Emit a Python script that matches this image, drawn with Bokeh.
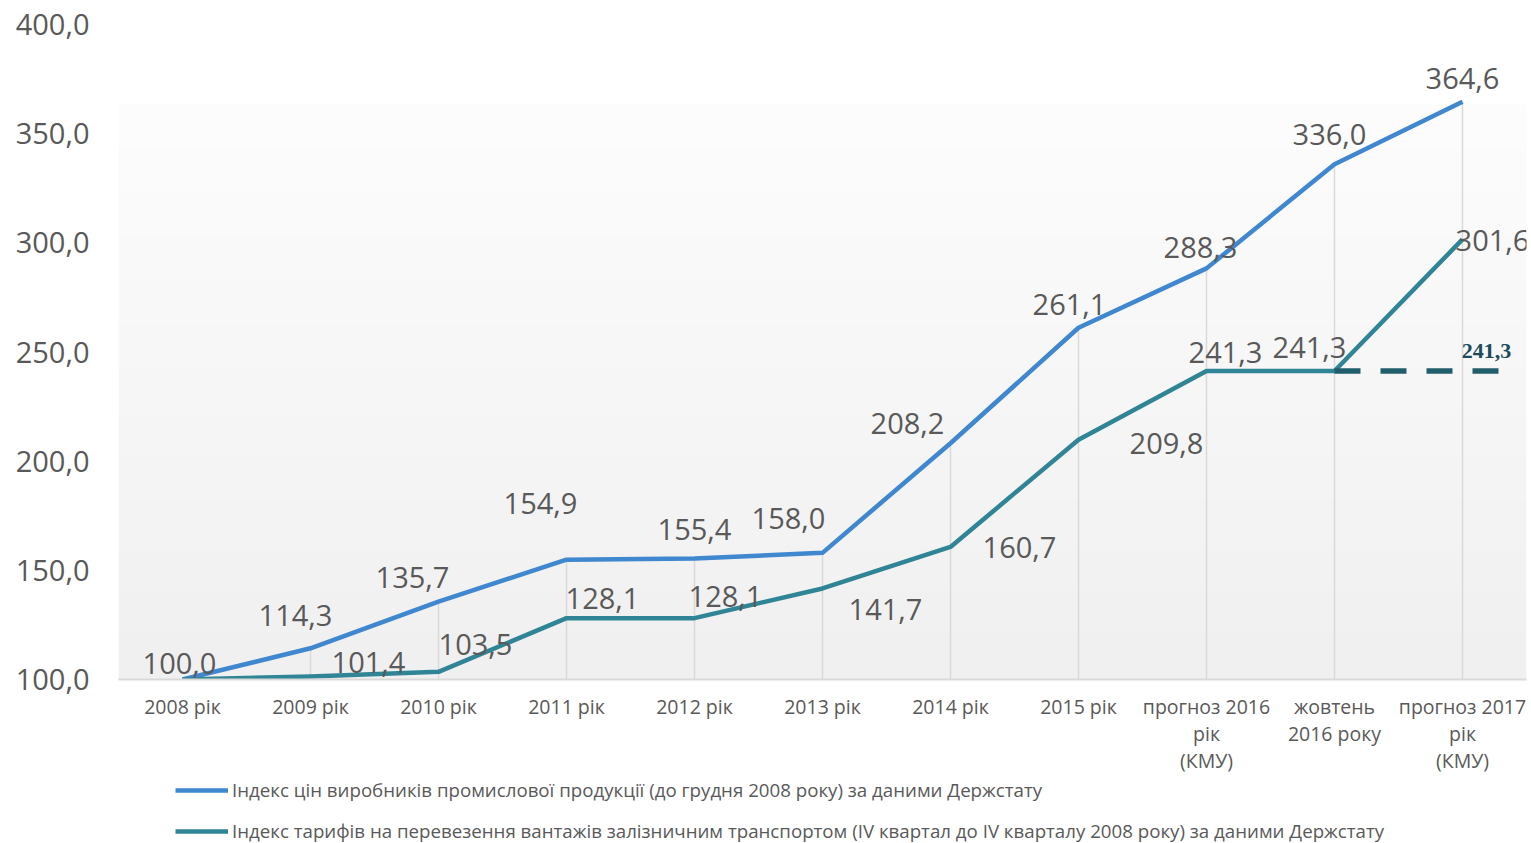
from bokeh.plotting import figure
from bokeh.layouts import column
from bokeh.models import ColumnDataSource, FixedTicker, Legend, LegendItem, Range1d
from bokeh.core.properties import value
from bokeh.embed import file_html
from bokeh.resources import INLINE
import numpy as np

# ---- data ----
categories = ["2008 рік", "2009 рік", "2010 рік", "2011 рік", "2012 рік", "2013 рік",
              "2014 рік", "2015 рік", "прогноз 2016\nрік\n(КМУ)", "жовтень\n2016 року",
              "прогноз 2017\nрік\n(КМУ)"]
producer_index = [100.0, 114.3, 135.7, 154.9, 155.4, 158.0, 208.2, 261.1, 288.3, 336.0, 364.6]
rail_tariff_index = [100.0, 101.4, 103.5, 128.1, 128.1, 141.7, 160.7, 209.8, 241.3, 241.3, 301.6]
tariff_hold_value = 241.3
y_ticks = [100, 150, 200, 250, 300, 350, 400]
y_tick_labels = ["100,0", "150,0", "200,0", "250,0", "300,0", "350,0", "400,0"]
series_names = [
    "Індекс цін виробників промислової продукції (до грудня 2008 року) за даними Держстату",
    "Індекс тарифів на перевезення вантажів залізничним транспортом (IV квартал до IV кварталу 2008 року) за даними Держстату",
]

# ---- label placement (screen px offsets) ----
blue_dx = [-3, -15, -26, -26, 0, -34, -43, -9, -6, -5, 0]
blue_dy = [-16, -33, -24, -56, -29, -34, -20, -23, -21, -30, -23]
teal_dx = [0, 58, 37, 36, 31, 63, 69, 88, 19, -25, 30]
teal_dy = [0, -14, -27, -20, -22, 21, 1, 4, -18, -23, 1]

def fmt(v):
    return f"{v:.1f}".replace(".", ",")

BLUE = "#3F87CF"
TEAL = "#2F8595"
DARK_TEAL = "#215E6C"
GRAY_TEXT = "#595959"
FONT = "Open Sans"

n = len(categories)
xs = list(range(n))

p = figure(width=1531, height=776, output_backend="svg", toolbar_location=None,
           x_range=Range1d(-0.5, 10.5), y_range=Range1d(100, 400),
           min_border_left=118, min_border_right=5, min_border_top=24, min_border_bottom=95)
p.outline_line_color = None
p.background_fill_color = "white"
p.border_fill_color = "white"
p.xgrid.grid_line_color = None
p.ygrid.grid_line_color = None

# gradient plot-area background
h = 200
grad = np.linspace(0, 1, h)
top = np.array([253, 253, 253])
bot = np.array([240, 240, 240])
img = np.zeros((h, 2), dtype=np.uint32)
view = img.view(dtype=np.uint8).reshape((h, 2, 4))
for i in range(h):
    c = bot + (top - bot) * grad[i]
    view[i, :, 0] = int(c[0]); view[i, :, 1] = int(c[1]); view[i, :, 2] = int(c[2]); view[i, :, 3] = 255
p.image_rgba(image=[img], x=-0.5, y=100, dw=11, dh=264)

# drop lines
p.segment(x0=xs, y0=[y_ticks[0]] * n, x1=xs, y1=producer_index, line_color="#d9d9d9", line_width=1.5)

# lines
r_blue = p.line(xs, producer_index, line_color=BLUE, line_width=4.5, line_join="round")
r_teal = p.line(xs, rail_tariff_index, line_color=TEAL, line_width=4.5, line_join="round")
p.line([xs[-2], xs[-1] + 0.3], [tariff_hold_value, tariff_hold_value], line_color=DARK_TEAL,
       line_width=5.5, line_dash="26 20")

# data labels
src_b = ColumnDataSource(dict(x=xs, y=producer_index, t=[fmt(v) for v in producer_index],
                              dx=blue_dx, dy=blue_dy))
p.text(x="x", y="y", text="t", x_offset="dx", y_offset="dy", source=src_b,
       text_font=value(FONT), text_font_size="29px", text_color=GRAY_TEXT,
       text_align="center", text_baseline="middle")
src_t = ColumnDataSource(dict(x=xs[1:], y=rail_tariff_index[1:], t=[fmt(v) for v in rail_tariff_index[1:]],
                              dx=teal_dx[1:], dy=teal_dy[1:]))
p.text(x="x", y="y", text="t", x_offset="dx", y_offset="dy", source=src_t,
       text_font=value(FONT), text_font_size="29px", text_color=GRAY_TEXT,
       text_align="center", text_baseline="middle")
p.text(x=[xs[-1]], y=[tariff_hold_value], text=[fmt(tariff_hold_value)], x_offset=24, y_offset=-20,
       text_font=value("Liberation Serif"), text_font_style="bold", text_font_size="22px",
       text_color="#1B4C5A", text_align="center", text_baseline="middle")

# axes
p.yaxis.ticker = FixedTicker(ticks=y_ticks)
p.yaxis.major_label_overrides = {t: l for t, l in zip(y_ticks, y_tick_labels)}
p.yaxis.axis_line_color = None
p.yaxis.major_tick_line_color = None
p.yaxis.minor_tick_line_color = None
p.yaxis.major_label_text_font = FONT
p.yaxis.major_label_text_font_size = "29px"
p.yaxis.major_label_text_color = GRAY_TEXT
p.yaxis.major_label_standoff = 23

p.xaxis.ticker = FixedTicker(ticks=xs)
p.xaxis.major_label_overrides = {i: c for i, c in enumerate(categories)}
p.xaxis.axis_line_color = "#d9d9d9"
p.xaxis.axis_line_width = 2
p.xaxis.major_tick_line_color = None
p.xaxis.minor_tick_line_color = None
p.xaxis.major_label_text_font = FONT
p.xaxis.major_label_text_font_size = "19.5px"
p.xaxis.major_label_text_line_height = 1.0
p.xaxis.major_label_text_color = GRAY_TEXT
p.xaxis.major_label_standoff = 7

# ---- legend strip below the chart ----
lg = figure(width=1531, height=67, output_backend="svg", toolbar_location=None,
            x_range=Range1d(0, 1), y_range=Range1d(0, 1),
            min_border_left=0, min_border_right=0, min_border_top=0, min_border_bottom=0)
lg.axis.visible = False
lg.grid.visible = False
lg.outline_line_color = None
lg_blue = lg.line(xs, producer_index, line_color=BLUE, line_width=4.5)
lg_teal = lg.line(xs, rail_tariff_index, line_color=TEAL, line_width=4.5)
legend = Legend(items=[LegendItem(label=series_names[0], renderers=[lg_blue]),
                       LegendItem(label=series_names[1], renderers=[lg_teal])],
                orientation="vertical", location=(57, 0))
legend.glyph_width = 53
legend.glyph_height = 20
legend.label_height = 20
legend.label_standoff = 4
legend.spacing = 16
legend.padding = 0
legend.margin = 0
legend.border_line_color = None
legend.background_fill_alpha = 0
legend.label_text_font = FONT
legend.label_text_font_size = "18.7px"
legend.label_text_color = GRAY_TEXT
lg.add_layout(legend)

layout = column(p, lg, spacing=0)
open("out.html", "w").write(file_html(layout, INLINE))
